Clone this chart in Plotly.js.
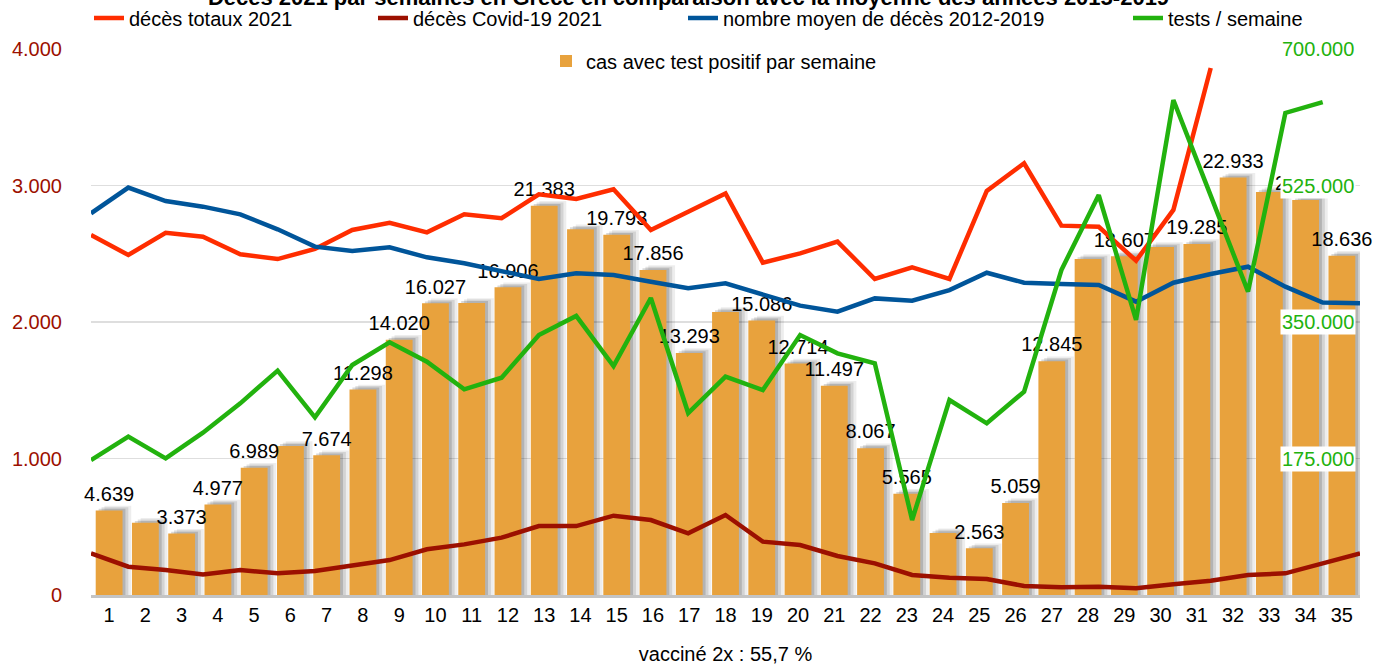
<!DOCTYPE html>
<html><head><meta charset="utf-8">
<script src="https://cdn.plot.ly/plotly-3.0.1.min.js"></script>
<style>html,body{margin:0;padding:0;background:#fff}#chart{width:1377px;height:666px}</style>
</head><body><div id="chart"></div>
<script>
// ---- data ----
const weeks = [1,2,3,4,5,6,7,8,9,10,11,12,13,14,15,16,17,18,19,20,21,22,23,24,25,26,27,28,29,30,31,32,33,34,35];
const casesPerWeek = [4639,3970,3373,4977,6989,8190,7674,11298,14020,16027,16050,16906,21383,20100,19793,17856,13293,15550,15086,12714,11497,8067,5565,3400,2563,5059,12845,18460,18607,19120,19285,22933,22140,21700,18636];
const caseLabels = ['4.639','','3.373','4.977','6.989','','7.674','11.298','14.020','16.027','','16.906','21.383','','19.793','17.856','13.293','','15.086','12.714','11.497','8.067','5.565','','2.563','5.059','12.845','','18.607','','19.285','22.933','','22.129','18.636'];
const totalDeaths2021 = [2637,2491,2654,2625,2496,2461,2535,2674,2727,2657,2789,2760,2935,2901,2972,2674,2808,2942,2435,2503,2589,2315,2401,2315,2960,3163,2706,2698,2449,2821,3861];
const covidDeaths2021 = [305,207,183,151,183,159,176,212,256,335,371,420,505,505,581,549,452,586,391,366,286,232,147,127,117,66,56,61,49,78,105,147,159,232,305];
const avgDeaths20122019 = [2796,2985,2886,2845,2789,2679,2552,2520,2547,2474,2430,2369,2315,2357,2344,2295,2247,2283,2198,2120,2076,2173,2156,2234,2361,2288,2278,2271,2149,2288,2352,2405,2259,2143,2137];
const testsPerWeek = [173000,203000,175200,208100,245700,287600,227800,294900,323900,299100,263700,278600,333300,357700,293600,380800,233300,279900,262800,333300,309800,297000,96200,250000,220100,260700,416700,512800,352600,634600,512000,388900,618000,632000];
const testTicks = [175000,350000,525000,700000];
const deathTicks = [0,1000,2000,3000,4000];

const titleText = 'Décès 2021 par semaines en Grèce en comparaison avec la moyenne des années 2015-2019';
const xTitle = 'vacciné 2x : 55,7 %';

// ---- styles ----
const C_RED = '#ff2d00', C_DRED = '#9c1000', C_BLUE = '#00559a', C_GREEN = '#22b20e', C_BAR = '#e8a23d';
const FONT = 'Liberation Sans, Arial, sans-serif';
const BW = 0.74;
const fmt = v => String(v).replace(/\B(?=(\d{3})+(?!\d))/g, '.');

const shadow = (dx, dy, a) => ({
  type: 'bar', x: weeks, y: casesPerWeek.map(v => v + dy), xaxis: 'x', yaxis: 'y',
  width: BW, offset: -BW/2 + dx, marker: {color: 'rgba(0,0,0,' + a + ')', line: {width: 0}},
  showlegend: false, hoverinfo: 'skip'
});

const traces = [
  shadow(0.24, 260, 0.07),
  shadow(0.16, 180, 0.11),
  shadow(0.08, 100, 0.15),
  {type: 'bar', name: 'cas avec test positif par semaine', x: weeks, y: casesPerWeek, xaxis: 'x', yaxis: 'y',
   width: BW, marker: {color: C_BAR, line: {width: 0}}, legend: 'legend5'},
  {type: 'scatter', mode: 'markers+text', x: weeks, y: casesPerWeek, text: caseLabels, xaxis: 'x', yaxis: 'y',
   textposition: 'top center', textfont: {family: FONT, size: 20, color: '#000'},
   marker: {size: 6, opacity: 0}, showlegend: false, hoverinfo: 'skip', cliponaxis: false},
  {type: 'scatter', mode: 'lines', name: 'décès totaux 2021', x: weeks.slice(0, totalDeaths2021.length), y: totalDeaths2021,
   xaxis: 'x2', yaxis: 'y2', line: {color: C_RED, width: 4.5}, legend: 'legend'},
  {type: 'scatter', mode: 'lines', name: 'décès Covid-19 2021', x: weeks, y: covidDeaths2021,
   xaxis: 'x2', yaxis: 'y2', line: {color: C_DRED, width: 4.5}, legend: 'legend2'},
  {type: 'scatter', mode: 'lines', name: 'nombre moyen de décès 2012-2019', x: weeks, y: avgDeaths20122019,
   xaxis: 'x2', yaxis: 'y2', line: {color: C_BLUE, width: 4.5}, legend: 'legend3'},
  {type: 'scatter', mode: 'lines', name: 'tests / semaine', x: weeks.slice(0, testsPerWeek.length), y: testsPerWeek,
   xaxis: 'x2', yaxis: 'y3', line: {color: C_GREEN, width: 4.5}, legend: 'legend4'}
];

const leg = (px, py) => ({
  x: px / 1377, y: 1 - py / 666, xref: 'container', yref: 'container', xanchor: 'left', yanchor: 'middle',
  orientation: 'h', bgcolor: 'rgba(0,0,0,0)', font: {family: FONT, size: 20, color: '#000'}, borderwidth: 0
});

const layout = {
  width: 1377, height: 666,
  margin: {l: 91, r: 17, t: 49, b: 71, autoexpand: false},
  paper_bgcolor: '#fff', plot_bgcolor: '#fff',
  separators: ',.',
  barmode: 'overlay',
  font: {family: FONT, size: 20, color: '#000'},
  title: {text: '<b>' + titleText + '</b>', x: 0.5, xanchor: 'center', y: 1, yref: 'container', yanchor: 'bottom',
          pad: {b: -5}, font: {family: FONT, size: 22, color: '#000'}},
  xaxis: {range: [0.5, 35.5], tickvals: weeks, ticktext: weeks.map(String), tickfont: {size: 20, color: '#000'},
          showgrid: false, zeroline: false, showline: true, linecolor: '#c4c4c4', linewidth: 3, ticks: '',
          title: {text: xTitle, font: {size: 20, color: '#000'}, standoff: 22}, fixedrange: true},
  xaxis2: {overlaying: 'x', range: [1, 35], visible: false, fixedrange: true},
  yaxis: {range: [0, 30000], visible: false, fixedrange: true},
  yaxis2: {overlaying: 'y', side: 'left', anchor: 'x', range: [0, 4000], tickvals: deathTicks, ticktext: deathTicks.map(fmt),
           tickfont: {size: 20, color: C_DRED}, showgrid: true, gridcolor: '#dedede', gridwidth: 1.5, zeroline: false,
           ticks: '', ticklabelstandoff: 28, fixedrange: true},
  yaxis3: {overlaying: 'y', side: 'right', anchor: 'x', range: [0, 700000], showticklabels: false, showgrid: false,
           zeroline: false, fixedrange: true},
  annotations: testTicks.map(v => ({
    x: 1, xref: 'paper', xanchor: 'right', xshift: -4, y: v, yref: 'y3', yanchor: 'middle',
    text: fmt(v), showarrow: false, bgcolor: '#fff', borderpad: 1,
    font: {family: FONT, size: 20, color: C_GREEN}
  })),
  legend: leg(89, 18),
  legend2: leg(373, 18),
  legend3: leg(683, 18),
  legend4: leg(1128, 18),
  legend5: leg(546, 61),
  showlegend: true
};

Plotly.newPlot('chart', traces, layout, {displayModeBar: false, staticPlot: true});
</script>
</body></html>
